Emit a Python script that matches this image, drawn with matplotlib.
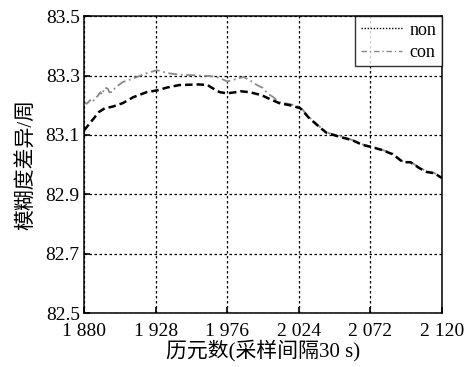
import numpy as np
import matplotlib.pyplot as plt
from matplotlib.lines import Line2D

plt.rcParams['font.family'] = ['Liberation Serif', 'Noto Sans CJK SC']

# epoch / value pairs
non_ep = [1880, 1884, 1890, 1894, 1899, 1906, 1913, 1922, 1929, 1936, 1944, 1957, 1963,
          1965, 1971, 1976, 1982, 1985, 1991, 1999, 2005, 2011, 2018, 2025, 2031, 2038,
          2043, 2052, 2060, 2067, 2073, 2080, 2087, 2094, 2099, 2105, 2110, 2115, 2120]
non_val = [83.115, 83.14, 83.177, 83.19, 83.195, 83.207, 83.227, 83.244, 83.25, 83.26,
           83.268, 83.27, 83.268, 83.261, 83.244, 83.24, 83.244, 83.247, 83.244, 83.234,
           83.22, 83.207, 83.2, 83.19, 83.157, 83.126, 83.106, 83.093, 83.082, 83.066,
           83.059, 83.049, 83.035, 83.008, 83.008, 82.988, 82.975, 82.971, 82.955]

con_ep = [1880, 1882, 1884, 1886, 1887, 1889, 1891, 1892, 1894, 1896, 1897, 1899, 1901,
          1906, 1913, 1922, 1929, 1936, 1944, 1957, 1965, 1971, 1976, 1980, 1983, 1987,
          1991, 1996, 2000, 2003, 2007, 2011, 2018, 2025, 2031, 2038, 2043, 2052, 2060,
          2067, 2073, 2080, 2087, 2094, 2099, 2105, 2110, 2115, 2120]
con_val = [83.21, 83.205, 83.217, 83.21, 83.224, 83.23, 83.244, 83.235, 83.26, 83.255,
           83.244, 83.244, 83.26, 83.278, 83.29, 83.308, 83.318, 83.308, 83.303, 83.3,
           83.298, 83.292, 83.28, 83.285, 83.29, 83.295, 83.285, 83.268, 83.258, 83.24,
           83.227, 83.21, 83.204, 83.194, 83.16, 83.128, 83.108, 83.095, 83.083, 83.068,
           83.06, 83.05, 83.037, 83.01, 83.009, 82.99, 82.977, 82.972, 82.952]

xticks = [1880, 1928, 1976, 2024, 2072, 2120]
xtick_labels = ['1 880', '1 928', '1 976', '2 024', '2 072', '2 120']
yticks = [82.5, 82.7, 82.9, 83.1, 83.3, 83.5]

fig = plt.figure(figsize=(4.72, 3.67), dpi=100)
ax = fig.add_axes([0.178, 0.147, 0.758, 0.809])

ax.plot(con_ep, con_val, color='#8a8a8a', lw=1.3, linestyle=(0, (5, 2, 1, 2)))
ax.plot(non_ep, non_val, color='black', lw=1.8, linestyle=(0, (3, 1.6)))

ax.set_xlim(1880, 2120)
ax.set_ylim(82.5, 83.5)
ax.set_xticks(xticks)
ax.set_xticklabels(xtick_labels)
ax.set_yticks(yticks)
ax.set_yticklabels(['%.1f' % v for v in yticks])
ax.tick_params(direction='in', length=4, width=1.2, labelsize=14)
ax.tick_params(axis='x', pad=7)
ax.tick_params(axis='y', pad=3)
ax.grid(True, color='black', linestyle=(0, (2, 2)), linewidth=0.9)
for s in ax.spines.values():
    s.set_linewidth(1.1)

ax.set_xlabel('历元数(采样间隔30 s)', fontsize=15, labelpad=0)
ax.set_ylabel('模糊度差异/周', fontsize=15, labelpad=6)

handles = [Line2D([], [], color='black', lw=1, linestyle=(0, (1, 1.2))),
           Line2D([], [], color='#8a8a8a', lw=1, linestyle=(0, (4, 2, 1, 2)))]
leg = ax.legend(handles, ['non', 'con'], loc='upper right', fontsize=13,
                frameon=True, fancybox=False, borderaxespad=0, handlelength=2.3,
                handletextpad=0.4, borderpad=0.3, labelspacing=0.3)
leg.get_frame().set_edgecolor('black')
leg.get_frame().set_linewidth(1.0)

fig.savefig('out.png', dpi=100)
